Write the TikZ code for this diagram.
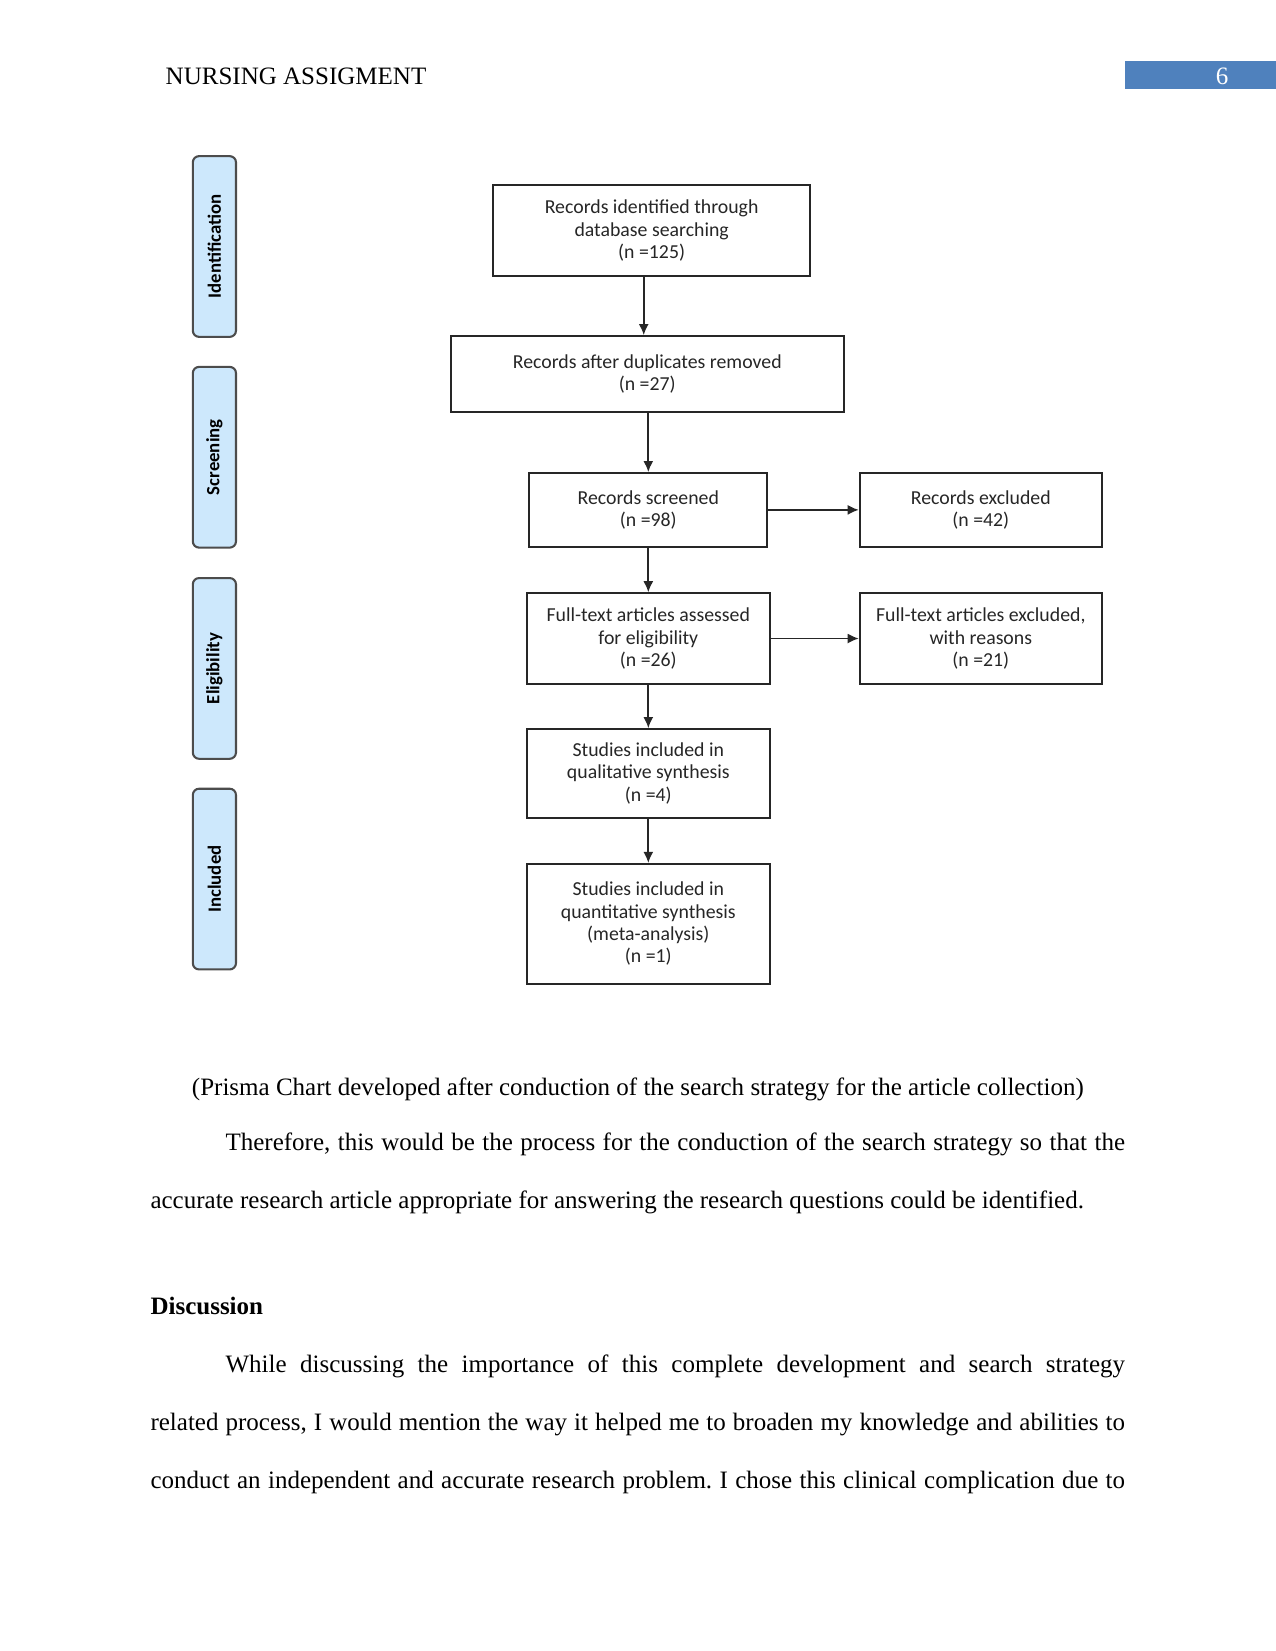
\documentclass[tikz,border=0pt]{standalone}
\usepackage{fontspec}
\setmainfont{Liberation Serif}
\newfontfamily\calib{Carlito}
\usetikzlibrary{arrows.meta}
\definecolor{headblue}{HTML}{4F81BD}
\definecolor{phasefill}{HTML}{CDE8FC}
\frenchspacing
\begin{document}
\begin{tikzpicture}[x=1pt,y=-1pt,
  box/.style={draw=black!85, line width=0.9pt, font=\calib\fontsize{9.5}{10.7}\selectfont, text=black!85, align=center, inner sep=0pt},
  phase/.style={draw=black!70, line width=1pt, fill=phasefill, rounded corners=3pt, inner sep=0pt, rotate=90, minimum width=86.7pt, minimum height=20.7pt, font=\calib\bfseries\fontsize{9}{10}\selectfont},
  arr/.style={-{Latex[length=5.3pt,width=4.8pt]}, line width=0.8pt, draw=black!85},
  body/.style={font=\fontsize{12}{13.8}\selectfont, inner sep=0pt, anchor=base west}]
\useasboundingbox (0,0) rectangle (612,792);
% header
\node[body] (hdr) at (79.3,40.4) {NURSING ASSIGMENT};
\node[fill=headblue, minimum width=72.3pt, minimum height=13.2pt, inner sep=0pt, anchor=north west] (pg) at (539.7,29.3) {};
\node[body, anchor=base, text=white] (pgn) at (586.2,40.4) {6};
% phases
\node[phase] (p1) at (102.85,118.25) {Identification};
\node[phase] (p2) at (102.85,219.35) {Screening};
\node[phase] (p3) at (102.85,320.65) {Eligibility};
\node[phase] (p4) at (102.85,421.7) {Included};
% boxes
\node[box, minimum width=152.1pt, minimum height=43.5pt] (b1) at (312.6,110.7) {Records identified through\\database searching\\(n =125)};
\node[box, minimum width=188.5pt, minimum height=36.4pt] (b2) at (310.5,179.4) {Records after duplicates removed\\(n =27)};
\node[box, minimum width=114.2pt, minimum height=35.4pt] (b3) at (311,244.6) {Records screened\\(n =98)};
\node[box, minimum width=116.2pt, minimum height=35.4pt] (b4) at (470.5,244.6) {Records excluded\\(n =42)};
\node[box, minimum width=116.7pt, minimum height=43.5pt] (b5) at (311,306.3) {Full-text articles assessed\\for eligibility\\(n =26)};
\node[box, minimum width=116.2pt, minimum height=43.5pt] (b6) at (470.5,306.3) {Full-text articles excluded,\\with reasons\\(n =21)};
\node[box, minimum width=116.7pt, minimum height=42.5pt] (b7) at (311,371.0) {Studies included in\\qualitative synthesis\\(n =4)};
\node[box, minimum width=116.7pt, minimum height=57.6pt] (b8) at (311,443.2) {Studies included in\\quantitative synthesis\\(meta-analysis)\\(n =1)};
% arrows
\draw[arr] ([xshift=-3.8pt]b1.south) -- ([xshift=-3.8pt]b1.south |- b2.north);
\draw[arr] (b2.south -| b3.north) -- (b3.north);
\draw[arr] (b3.east) -- (b4.west);
\draw[arr] (b3.south) -- (b5.north);
\draw[arr] (b5.east) -- (b6.west);
\draw[arr] (b5.south) -- (b7.north);
\draw[arr] (b7.south) -- (b8.north);
% body text
\node[body, anchor=base] (cap) at (306,525.5) {(Prisma Chart developed after conduction of the search strategy for the article collection)};
\node[body] (l1) at (108,551.8) {\makebox[431.5pt][s]{Therefore, this would be the process for the conduction of the search strategy so that the}};
\node[body] (l2) at (72,579.6) {accurate research article appropriate for answering the research questions could be identified.};
\node[body] (disc) at (72,630.7) {\bfseries Discussion};
\node[body] (l3) at (108,658.5) {\makebox[431.5pt][s]{While discussing the importance of this complete development and search strategy}};
\node[body] (l4) at (72,686.3) {\makebox[467.5pt][s]{related process, I would mention the way it helped me to broaden my knowledge and abilities to}};
\node[body] (l5) at (72,714.1) {\makebox[467.5pt][s]{conduct an independent and accurate research problem. I chose this clinical complication due to}};
\end{tikzpicture}
\end{document}
